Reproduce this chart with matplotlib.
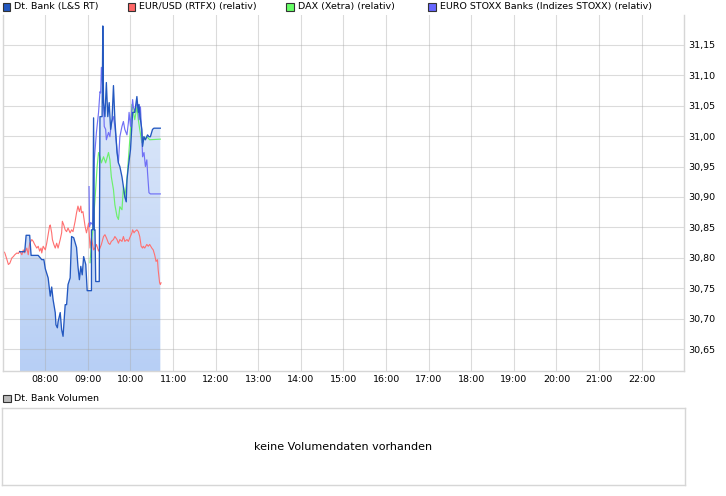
import matplotlib
matplotlib.use("Agg")
import matplotlib.pyplot as plt
import numpy as np
from matplotlib.patches import Rectangle, PathPatch
from matplotlib.colors import LinearSegmentedColormap

# ---------------- data (minutes after midnight, price / relative level) -------------
bank_min = [444, 451, 453, 458, 460, 470, 475, 478, 480, 484, 487, 489, 491, 494, 495, 497,
            498, 501, 503, 505, 508, 510, 512, 515, 517, 520, 524, 526, 528, 530, 532, 534,
            537, 539, 545, 545, 547, 548, 549, 550, 551, 556, 557, 560, 561, 562, 564, 566,
            568, 570, 572, 574, 576, 578, 581, 583, 585, 588, 590, 592, 594, 595, 597, 600,
            603, 606, 609, 611, 612, 614, 616, 617, 619, 621, 624, 626, 628, 631, 633, 642]
bank_val = [30.810, 30.810, 30.837, 30.837, 30.804, 30.804, 30.797, 30.797, 30.782, 30.767,
            30.737, 30.752, 30.731, 30.710, 30.690, 30.685, 30.695, 30.710, 30.682, 30.671,
            30.723, 30.723, 30.756, 30.767, 30.835, 30.833, 30.817, 30.786, 30.764, 30.786,
            30.772, 30.802, 30.789, 30.746, 30.746, 30.846, 30.846, 31.030, 30.846, 30.846,
            30.761, 30.761, 31.032, 31.032, 31.181, 31.055, 31.032, 31.088, 31.032, 31.055,
            31.011, 31.027, 31.083, 31.027, 30.973, 30.956, 30.950, 30.933, 30.917, 30.900,
            30.892, 30.928, 30.950, 30.978, 31.039, 31.039, 31.065, 31.039, 31.052, 31.027,
            31.011, 30.983, 30.999, 30.994, 31.002, 30.999, 30.999, 31.011, 31.013, 31.013]

eur_min = [420, 423, 426, 428, 430, 433, 435, 437, 440, 442, 444, 447, 449, 451, 454, 456,
           458, 461, 463, 465, 468, 470, 472, 474, 475, 477, 480, 482, 484, 486, 487, 489,
           490, 492, 494, 496, 498, 501, 503, 504, 506, 508, 510, 512, 515, 517, 519, 522,
           524, 526, 528, 530, 531, 533, 534, 536, 538, 541, 543, 545, 548, 550, 552, 555,
           557, 559, 562, 564, 566, 569, 571, 573, 576, 578, 581, 583, 585, 588, 590, 592,
           595, 597, 599, 602, 603, 605, 606, 609, 611, 613, 615, 617, 618, 620, 623, 625,
           627, 630, 632, 634, 636, 638, 639, 641, 642, 643]
eur_val = [30.812, 30.808, 30.797, 30.789, 30.791, 30.800, 30.802, 30.805, 30.808, 30.807,
           30.811, 30.805, 30.813, 30.808, 30.816, 30.805, 30.824, 30.830, 30.827, 30.822,
           30.816, 30.819, 30.811, 30.816, 30.808, 30.819, 30.813, 30.824, 30.838, 30.852,
           30.854, 30.841, 30.830, 30.822, 30.816, 30.824, 30.816, 30.830, 30.841, 30.860,
           30.854, 30.846, 30.843, 30.849, 30.841, 30.846, 30.843, 30.860, 30.874, 30.885,
           30.876, 30.885, 30.874, 30.876, 30.868, 30.852, 30.841, 30.857, 30.816, 30.833,
           30.813, 30.816, 30.822, 30.811, 30.816, 30.822, 30.835, 30.838, 30.833, 30.824,
           30.822, 30.827, 30.830, 30.835, 30.830, 30.824, 30.830, 30.827, 30.835, 30.827,
           30.830, 30.827, 30.833, 30.841, 30.846, 30.841, 30.843, 30.846, 30.843, 30.835,
           30.819, 30.816, 30.819, 30.816, 30.822, 30.819, 30.822, 30.816, 30.813, 30.805,
           30.794, 30.797, 30.780, 30.759, 30.756, 30.759]

dax_min = [543, 545, 547, 550, 553, 555, 557, 559, 562, 565, 569, 571, 573, 576, 578, 581,
           583, 585, 588, 590, 592, 595, 597, 599, 602, 604, 606, 609, 611, 613, 616, 618,
           620, 623, 627, 642]
dax_val = [30.792, 30.825, 30.846, 30.896, 30.950, 30.973, 30.966, 30.956, 30.966, 30.956,
           30.973, 30.961, 30.933, 30.912, 30.887, 30.868, 30.863, 30.884, 30.879, 30.917,
           30.900, 30.928, 30.961, 30.994, 31.052, 31.039, 31.027, 31.048, 31.027, 31.011,
           30.989, 30.999, 30.994, 30.999, 30.994, 30.995]

stoxx_min = [541.6, 542.3, 544, 547, 549, 552, 555, 557, 558, 559, 562, 563, 565, 566, 569,
             571, 573, 576, 578, 581, 583, 585, 588, 590, 592, 595, 597, 598, 600, 603, 604,
             606, 609, 611, 612, 614, 616, 617, 619, 621, 623, 624, 626, 628, 642]
stoxx_val = [30.917, 30.851, 30.858, 30.854, 30.961, 31.006, 31.039, 31.073, 31.071, 31.113,
             31.060, 31.016, 31.011, 30.994, 31.006, 30.999, 31.022, 31.032, 31.016, 30.978,
             30.956, 30.999, 31.016, 31.024, 31.011, 31.002, 31.022, 31.039, 31.016, 31.060,
             31.048, 31.040, 31.055, 31.044, 31.027, 31.048, 30.999, 30.966, 30.973, 30.950,
             30.961, 30.940, 30.907, 30.905, 30.905]

x_ticks = [8, 9, 10, 11, 12, 13, 14, 15, 16, 17, 18, 19, 20, 21, 22]
x_labels = ["08:00", "09:00", "10:00", "11:00", "12:00", "13:00", "14:00", "15:00",
            "16:00", "17:00", "18:00", "19:00", "20:00", "21:00", "22:00"]
y_ticks = [30.65, 30.70, 30.75, 30.80, 30.85, 30.90, 30.95, 31.00, 31.05, 31.10, 31.15]
y_labels = ["30,65", "30,70", "30,75", "30,80", "30,85", "30,90", "30,95",
            "31,00", "31,05", "31,10", "31,15"]

legend_names = ["Dt. Bank (L&S RT)", "EUR/USD (RTFX) (relativ)", "DAX (Xetra) (relativ)",
                "EURO STOXX Banks (Indizes STOXX) (relativ)"]
volume_title = "Dt. Bank Volumen"
volume_msg = "keine Volumendaten vorhanden"

# ---------------- styling -------------------------------------------------------------
C_BANK = "#2358c0"
C_EUR = "#ff7070"
C_DAX = "#6cf06c"
C_STOXX = "#7070f5"
GRID = "#aaaaaa"
FRAME = "#d6d6d6"
FS = 6.8

W, H = 726, 496
plt.rcParams['font.family'] = ['DejaVu Sans']
fig = plt.figure(figsize=(W / 100, H / 100), dpi=100)


def fx(px):
    return px / W


def fy(py):
    return 1 - py / H


YLO, YHI = 30.614, 31.199
ax = fig.add_axes([fx(2.7), fy(371), (684.3 - 2.7) / W, (371 - 15) / H])
ax.set_xlim(7, 23)
ax.set_ylim(YLO, YHI)

# gradient area under the Dt. Bank line
bt = np.array(bank_min) / 60.0
bv = np.array(bank_val)
poly = ax.fill_between(bt, YLO, bv, facecolor='none', edgecolor='none', lw=0)
clip = PathPatch(poly.get_paths()[0], transform=ax.transData, facecolor='none', edgecolor='none')
ax.add_patch(clip)
cmap = LinearSegmentedColormap.from_list("fillgrad", ["#b7cff5", "#e6eefb"])
grad = np.linspace(0, 1, 256).reshape(-1, 1)
im = ax.imshow(grad, extent=[bt.min(), bt.max(), YLO, bv.max()], origin='lower',
               aspect='auto', cmap=cmap, zorder=0.3, interpolation='bilinear')
im.set_clip_path(clip)

ax.plot(np.array(eur_min) / 60.0, eur_val, color=C_EUR, lw=0.8, zorder=2)
ax.plot(np.array(dax_min) / 60.0, dax_val, color=C_DAX, lw=0.85, zorder=2.1)
ax.plot(np.array(stoxx_min) / 60.0, stoxx_val, color=C_STOXX, lw=0.85, zorder=2.2)
ax.plot(bt, bv, color=C_BANK, lw=0.95, zorder=2.3)

ax.set_xlim(7, 23)
ax.set_ylim(YLO, YHI)
ax.set_xticks(x_ticks)
ax.set_xticklabels(x_labels, fontsize=FS)
ax.set_yticks(y_ticks)
ax.set_yticklabels(y_labels, fontsize=FS)
ax.yaxis.tick_right()
ax.tick_params(axis='both', length=0)
ax.tick_params(axis='x', pad=3.0)
ax.tick_params(axis='y', pad=2.8)
ax.set_axisbelow(True)
ax.grid(True, color=GRID, alpha=0.42, lw=0.8)
for s in ["left", "right", "bottom"]:
    ax.spines[s].set_color(FRAME)
    ax.spines[s].set_linewidth(1.0)
ax.spines["top"].set_visible(False)

# legend (top)
leg_sq_x = [2.7, 127.7, 286.3, 428.3]
leg_txt_x = [14, 139.3, 298.3, 440]
leg_cols = [C_BANK, "#ff6666", "#66ff66", "#6666ff"]
for sx, tx, col, name in zip(leg_sq_x, leg_txt_x, leg_cols, legend_names):
    fig.add_artist(Rectangle((fx(sx), fy(10.7)), 7.5 / W, 7.5 / H, transform=fig.transFigure,
                             facecolor=col, edgecolor="#333333", lw=0.8))
    fig.text(fx(tx), fy(7.0), name, fontsize=FS, va='center', ha='left', color="#000000")

# volume panel
fig.add_artist(Rectangle((fx(3), fy(402)), 7.5 / W, 7.5 / H, transform=fig.transFigure,
                         facecolor="#bbbbbb", edgecolor="#333333", lw=0.8))
fig.text(fx(14), fy(398.3), volume_title, fontsize=FS, va='center', ha='left')

ax2 = fig.add_axes([fx(2), fy(485), (685 - 2) / W, (485 - 408) / H])
ax2.set_xticks([])
ax2.set_yticks([])
for s in ax2.spines.values():
    s.set_color(FRAME)
    s.set_linewidth(1.0)
ax2.text(0.5, 0.5, volume_msg, transform=ax2.transAxes, ha='center', va='center', fontsize=8.0)

fig.savefig("out.png", dpi=100)
